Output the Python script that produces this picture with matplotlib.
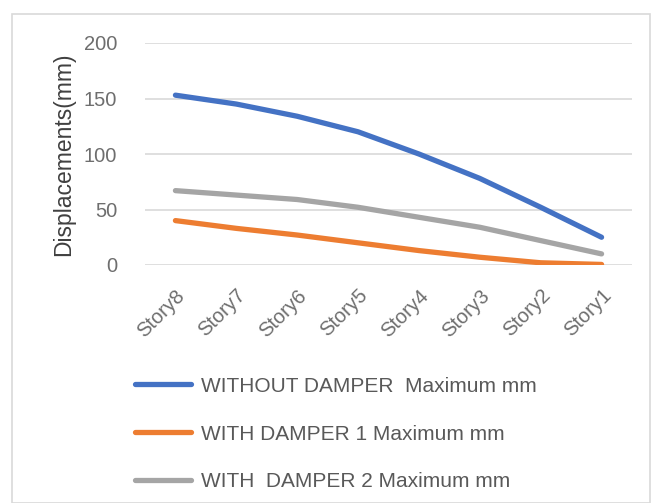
import matplotlib
matplotlib.use("Agg")
import matplotlib.pyplot as plt
from matplotlib.patches import Rectangle

plt.rcParams['font.family'] = ['Liberation Sans', 'DejaVu Sans']

stories = ["Story8", "Story7", "Story6", "Story5", "Story4", "Story3", "Story2", "Story1"]
without_damper = [153, 145, 134, 120, 100, 78, 52, 25]
with_damper1 = [40, 33, 27, 20, 13, 7, 2, 0.5]
with_damper2 = [67, 63, 59, 52, 43, 34, 22, 10]
labels = ["WITHOUT DAMPER  Maximum mm", "WITH DAMPER 1 Maximum mm", "WITH  DAMPER 2 Maximum mm"]
colors = ["#4472C4", "#ED7D31", "#A5A5A5"]
yticks = [0, 50, 100, 150, 200]

fig = plt.figure(figsize=(6.62, 5.03), dpi=100)
fig.patches.append(Rectangle((12/662, 0), 638/662, 1 - 14/503, transform=fig.transFigure,
                             fill=False, edgecolor="#D9D9D9", lw=1.2))
ax = fig.add_axes([145/662, 1 - 265/503, (632 - 145)/662, (265 - 43)/503])

x = list(range(len(stories)))
lines = []
for vals, c, lab in zip([without_damper, with_damper1, with_damper2], colors, labels):
    ln, = ax.plot(x, vals, color=c, lw=3.8, solid_capstyle='round', solid_joinstyle='round', label=lab)
    lines.append(ln)

ax.set_xlim(-0.5, len(stories) - 0.5)
ax.set_ylim(0, 200)
ax.set_yticks(yticks)
ax.set_xticks(x)
ax.set_xticklabels(stories, rotation=45, ha='right', rotation_mode='anchor')
ax.grid(axis='y', color='#D9D9D9', lw=1.2)
ax.set_axisbelow(True)
for s in ax.spines.values():
    s.set_visible(False)
ax.tick_params(length=0, colors='#6E6E6E', labelsize=14.5)
ax.tick_params(axis='x', pad=15, labelsize=14.5)
ax.tick_params(axis='y', pad=20)
ax.set_ylabel("Displacements(mm)", fontsize=16.5, color='#404040', labelpad=6)

fig.legend(handles=lines, labels=labels, loc='upper left', bbox_to_anchor=(116/662, 1 - 358/503),
           frameon=False, fontsize=15, labelcolor='#595959', handlelength=2.7,
           handletextpad=0.5, labelspacing=1.38)

fig.savefig("out.png", dpi=100, facecolor='white')
